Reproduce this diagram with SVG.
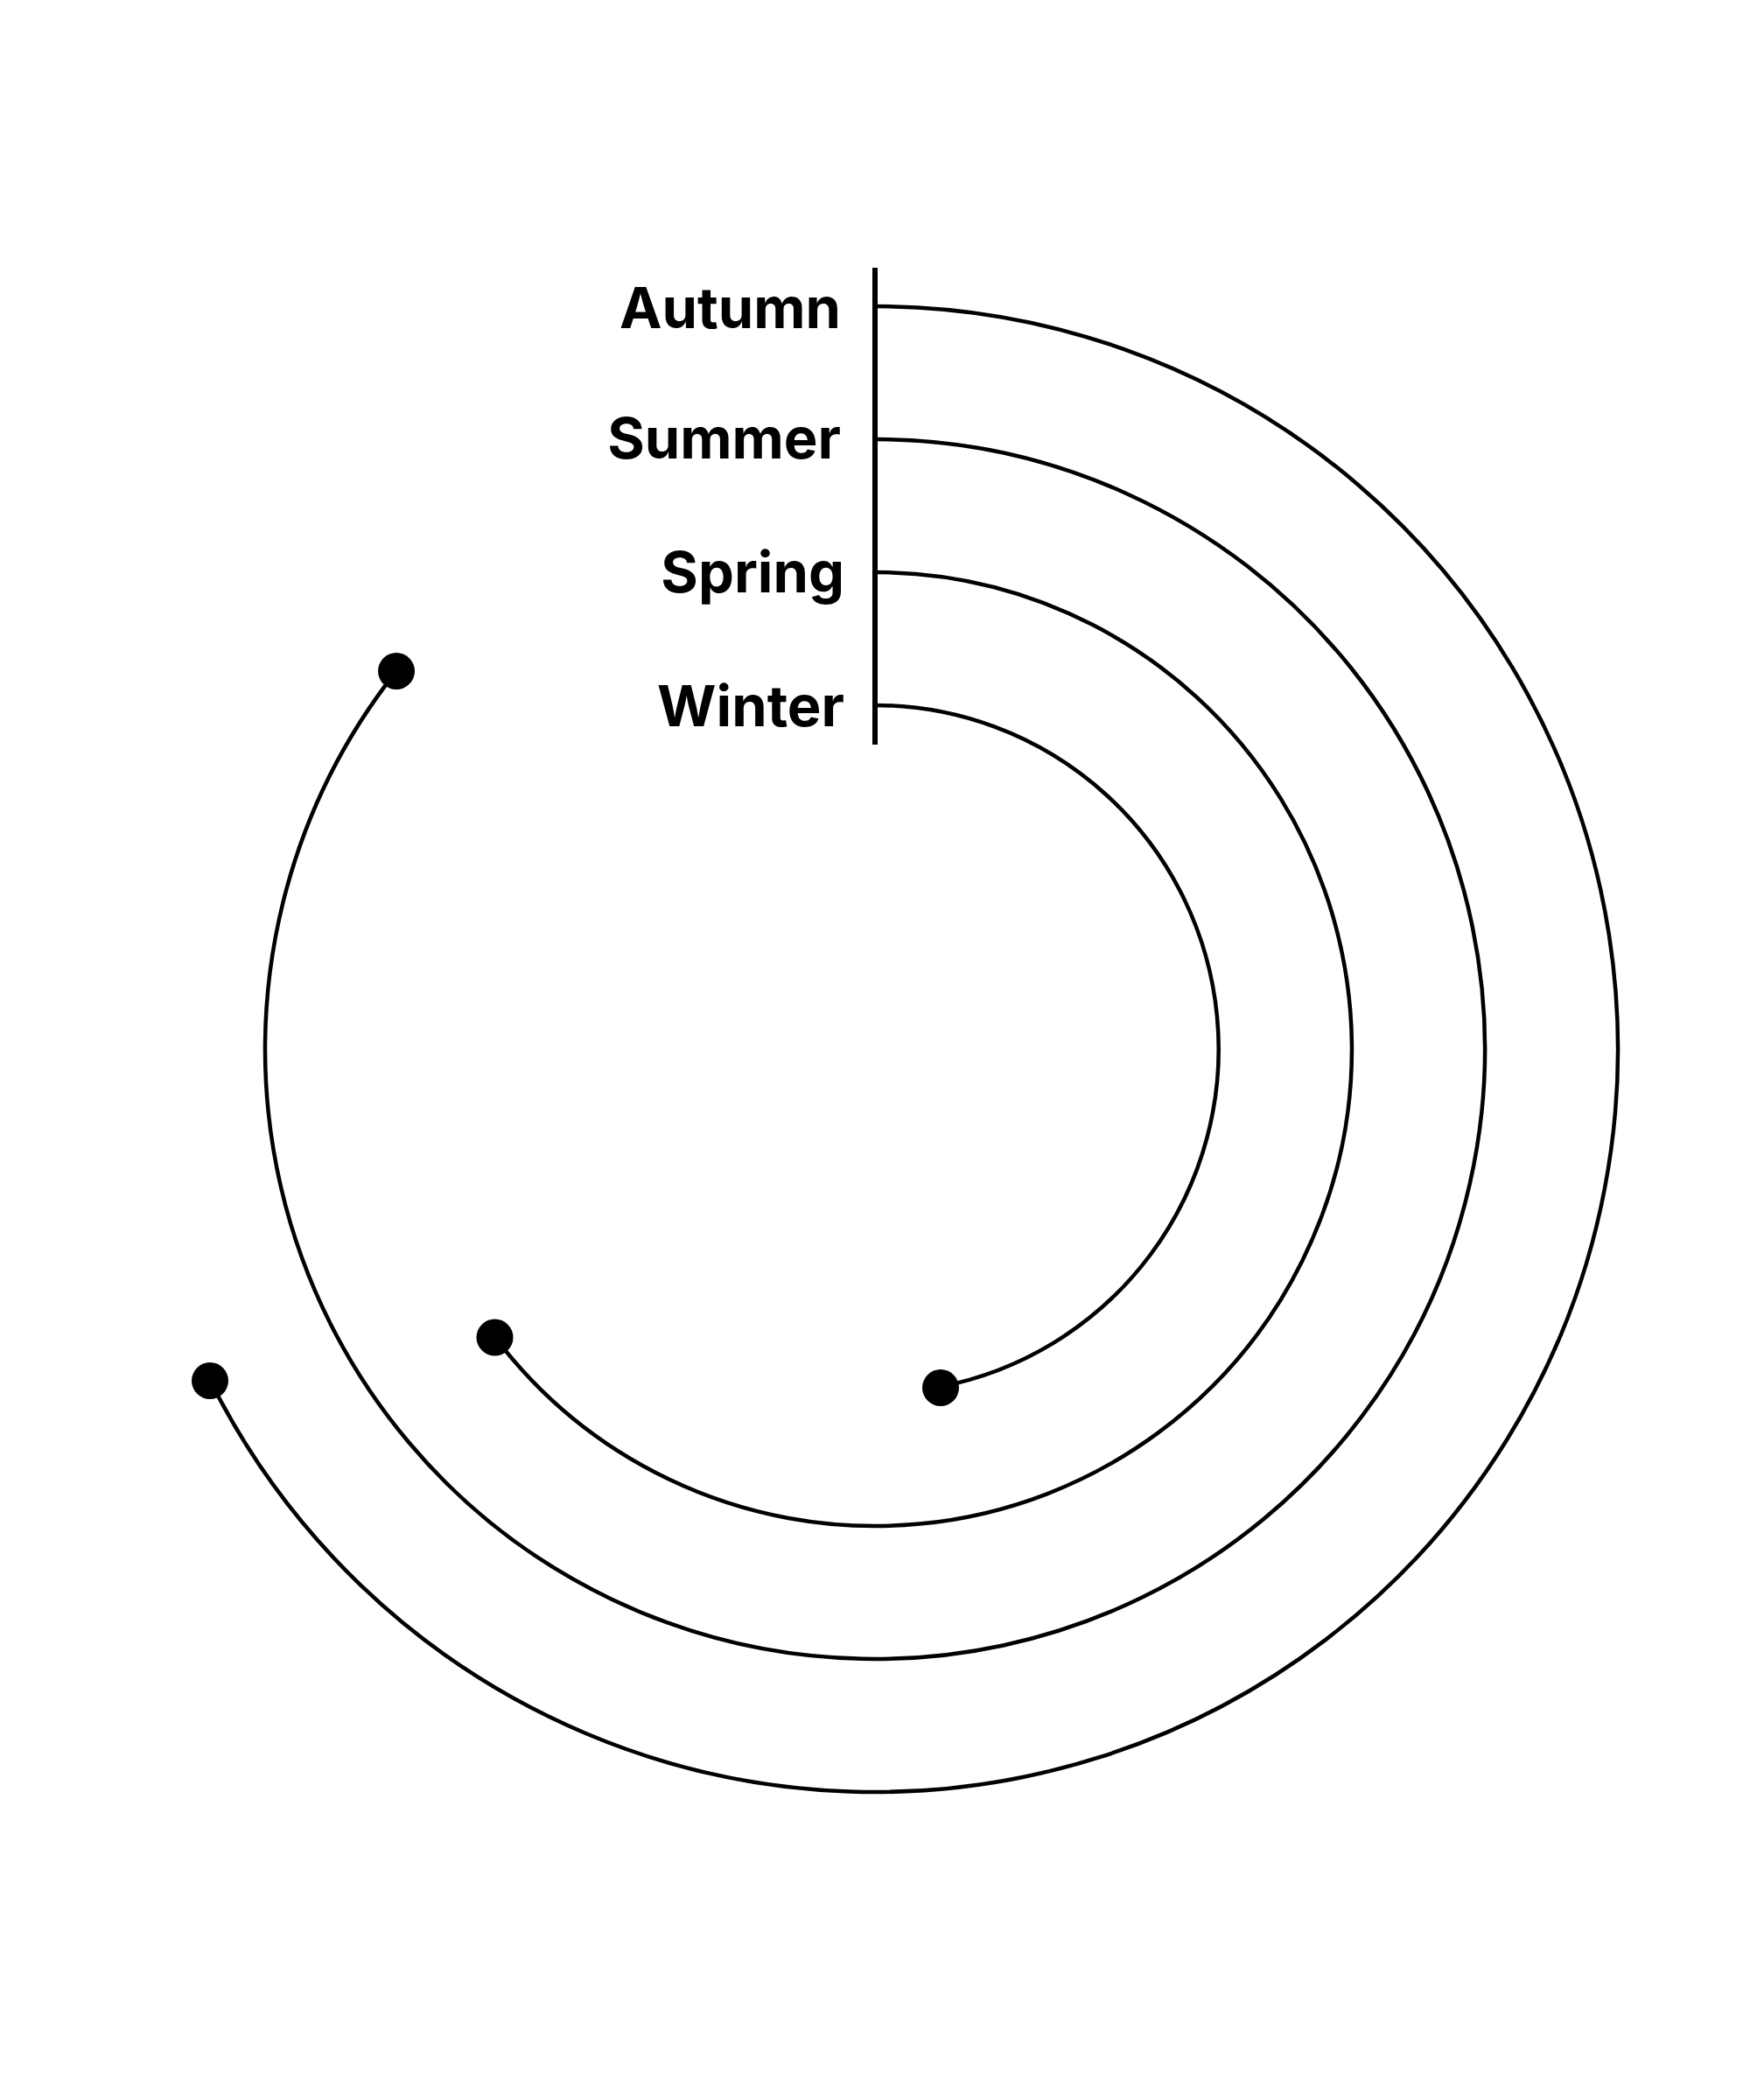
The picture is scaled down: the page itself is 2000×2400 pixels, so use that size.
<svg xmlns="http://www.w3.org/2000/svg" width="2000" height="2400" viewBox="0 0 2000 2400">
<style>
.lbl{font-family:Inter,"Liberation Sans",sans-serif;font-weight:700;font-size:65px;fill:#000;text-anchor:end}
.arc{fill:none;stroke:#000;stroke-width:4.5}
.dot{fill:#000}
</style>
<rect width="2000" height="2400" fill="#fff"/>
<g id="axis">
<line x1="1000" y1="306" x2="1000" y2="851" stroke="#000" stroke-width="6"/>
</g>
<g id="connectors">
<path class="arc" d="M1000 350 A849 849 0 1 1 240.2 1577.8"/>
<path class="arc" d="M1000 502 A697 697 0 1 1 453 767"/>
<path class="arc" d="M1000 654 A545 545 0 1 1 565.7 1528.3"/>
<path class="arc" d="M1000 806 A393 393 0 0 1 1074.6 1584.8"/>
</g>
<g id="autumn">
<text class="lbl" x="961" y="375">Autumn</text>
<circle class="dot" cx="240" cy="1578" r="21"/>
</g>
<g id="summer">
<text class="lbl" x="961" y="524">Summer</text>
<circle class="dot" cx="453" cy="767" r="21"/>
</g>
<g id="spring">
<text class="lbl" x="965" y="677">Spring</text>
<circle class="dot" cx="565.5" cy="1528.5" r="21"/>
</g>
<g id="winter">
<text class="lbl" x="965" y="830">Winter</text>
<circle class="dot" cx="1075" cy="1586" r="21"/>
</g>
</svg>
